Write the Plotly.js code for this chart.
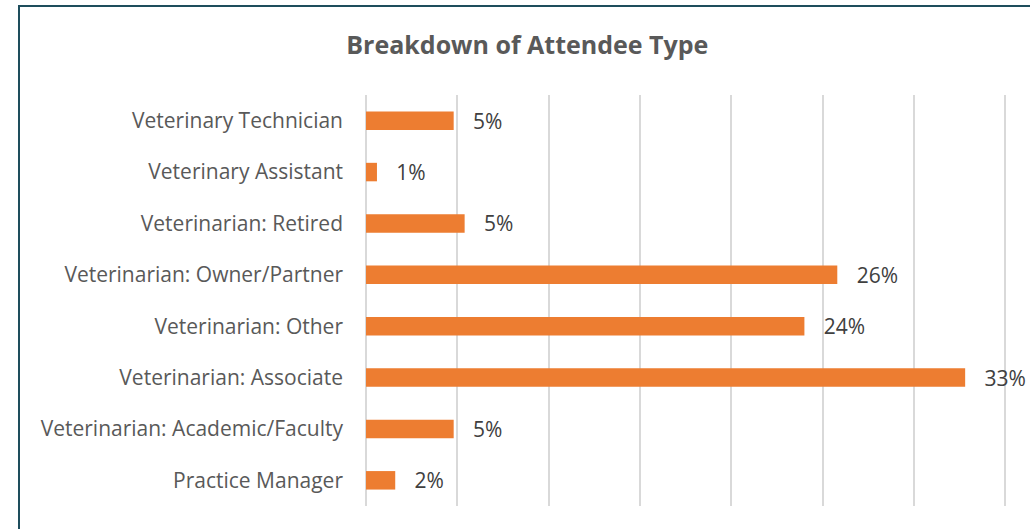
<!DOCTYPE html>
<html>
<head>
<meta charset="utf-8">
<script src="https://cdn.plot.ly/plotly-3.0.1.min.js"></script>
<style>
  html, body { margin: 0; padding: 0; background: #fff; }
  #wrap { position: relative; width: 1030px; height: 529px; overflow: hidden; }
  #chart { width: 1030px; height: 529px; }
  #frame { position: absolute; left: 18px; top: 5px; width: 1100px; height: 600px;
           border: 2px solid #1E4D5C; pointer-events: none; box-sizing: border-box; }
</style>
</head>
<body>
<div id="wrap">
  <div id="chart"></div>
  <div id="frame"></div>
</div>
<script>
const categories = [
  "Veterinary Technician",
  "Veterinary Assistant",
  "Veterinarian: Retired",
  "Veterinarian: Owner/Partner",
  "Veterinarian: Other",
  "Veterinarian: Associate",
  "Veterinarian: Academic/Faculty",
  "Practice Manager"
];
const shares = [0.048, 0.006, 0.054, 0.258, 0.240, 0.328, 0.048, 0.016];
const chartTitle = "Breakdown of Attendee Type";

const font = "'Open Sans', sans-serif";

Plotly.newPlot("chart", [{
  type: "bar",
  orientation: "h",
  x: shares,
  y: categories,
  width: 0.36,
  marker: { color: "#ED7D31" },
  texttemplate: "\u00a0\u00a0\u00a0%{x:.0%}",
  textposition: "outside",
  cliponaxis: false,
  constraintext: "none",
  textfont: { family: font, size: 21, color: "#404040" },
  hoverinfo: "skip"
}], {
  width: 1030,
  height: 529,
  margin: { l: 366, r: 21, t: 95, b: 23 },
  paper_bgcolor: "#ffffff",
  plot_bgcolor: "#ffffff",
  showlegend: false,
  title: {
    text: "<b>" + chartTitle + "</b>",
    x: 0.512, xanchor: "center",
    y: 0.915, yanchor: "middle",
    font: { family: font, size: 25, color: "#595959" }
  },
  xaxis: {
    range: [0, 0.352],
    dtick: 0.05,
    tick0: 0,
    showticklabels: false,
    showgrid: true,
    gridcolor: "#D9D9D9",
    gridwidth: 2,
    zeroline: true,
    zerolinecolor: "#D9D9D9",
    zerolinewidth: 2,
    showline: false,
    fixedrange: true
  },
  yaxis: {
    autorange: "reversed",
    showgrid: false,
    zeroline: false,
    showline: false,
    ticks: "",
    ticklabelstandoff: 22,
    tickfont: { family: font, size: 21, color: "#595959" },
    fixedrange: true
  }
}, { displayModeBar: false, staticPlot: true });
</script>
</body>
</html>
